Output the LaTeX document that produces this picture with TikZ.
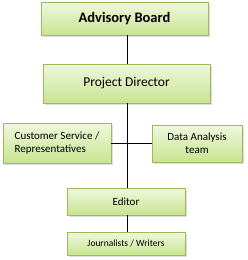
\documentclass[tikz,border=0pt]{standalone}
\usepackage{fontspec}
\setmainfont{Carlito}
\usetikzlibrary{positioning,shadows,calc}
\definecolor{olivebd}{RGB}{155,187,89}
\definecolor{olivetop}{RGB}{240,248,222}
\definecolor{olivebot}{RGB}{200,228,145}
\tikzset{
  orgbox/.style={draw=olivebd, line width=0.8pt, top color=olivetop, bottom color=olivebot,
    drop shadow={opacity=0.25, shadow xshift=1.5pt, shadow yshift=-1.5pt},
    inner sep=0pt, align=center},
  link/.style={black, line width=0.8pt}
}

\begin{document}
\begin{tikzpicture}[x=1pt,y=-1pt]
\useasboundingbox (0,0) rectangle (248,260);
\coordinate (spine) at (127,0);

\node[orgbox, minimum width=167pt, minimum height=33pt, font=\fontsize{14.5}{16}\selectfont\bfseries] (board) at (124.5,18.5) {Advisory Board};
\node[orgbox, minimum width=167pt, minimum height=39pt, font=\fontsize{13.5}{15}\selectfont] (director) at (126.5,83.5) {Project Director};
\node[orgbox, minimum width=108pt, minimum height=40pt, align=left, font=\fontsize{11}{13}\selectfont] (service) at (57,143) {Customer Service /\\Representatives};
\node[orgbox, minimum width=90pt, minimum height=37pt, font=\fontsize{11}{13}\selectfont] (analysis) at (197,143.5) {Data Analysis\\team};
\node[orgbox, minimum width=118pt, minimum height=27pt, font=\fontsize{11}{13}\selectfont] (editor) at (126,201.5) {Editor};
\node[orgbox, minimum width=118pt, minimum height=23pt, font=\fontsize{9.5}{11}\selectfont] (writers) at (126,243.5) {Journalists / Writers};

% connectors
\draw[link] (board.south -| spine) -- (director.north -| spine);
\draw[link] (director.south -| spine) -- (editor.north -| spine);
\draw[link] (service.east) -- (service.east -| analysis.west);
\draw[link] (editor.south -| spine) -- (writers.north -| spine);
\end{tikzpicture}
\end{document}
